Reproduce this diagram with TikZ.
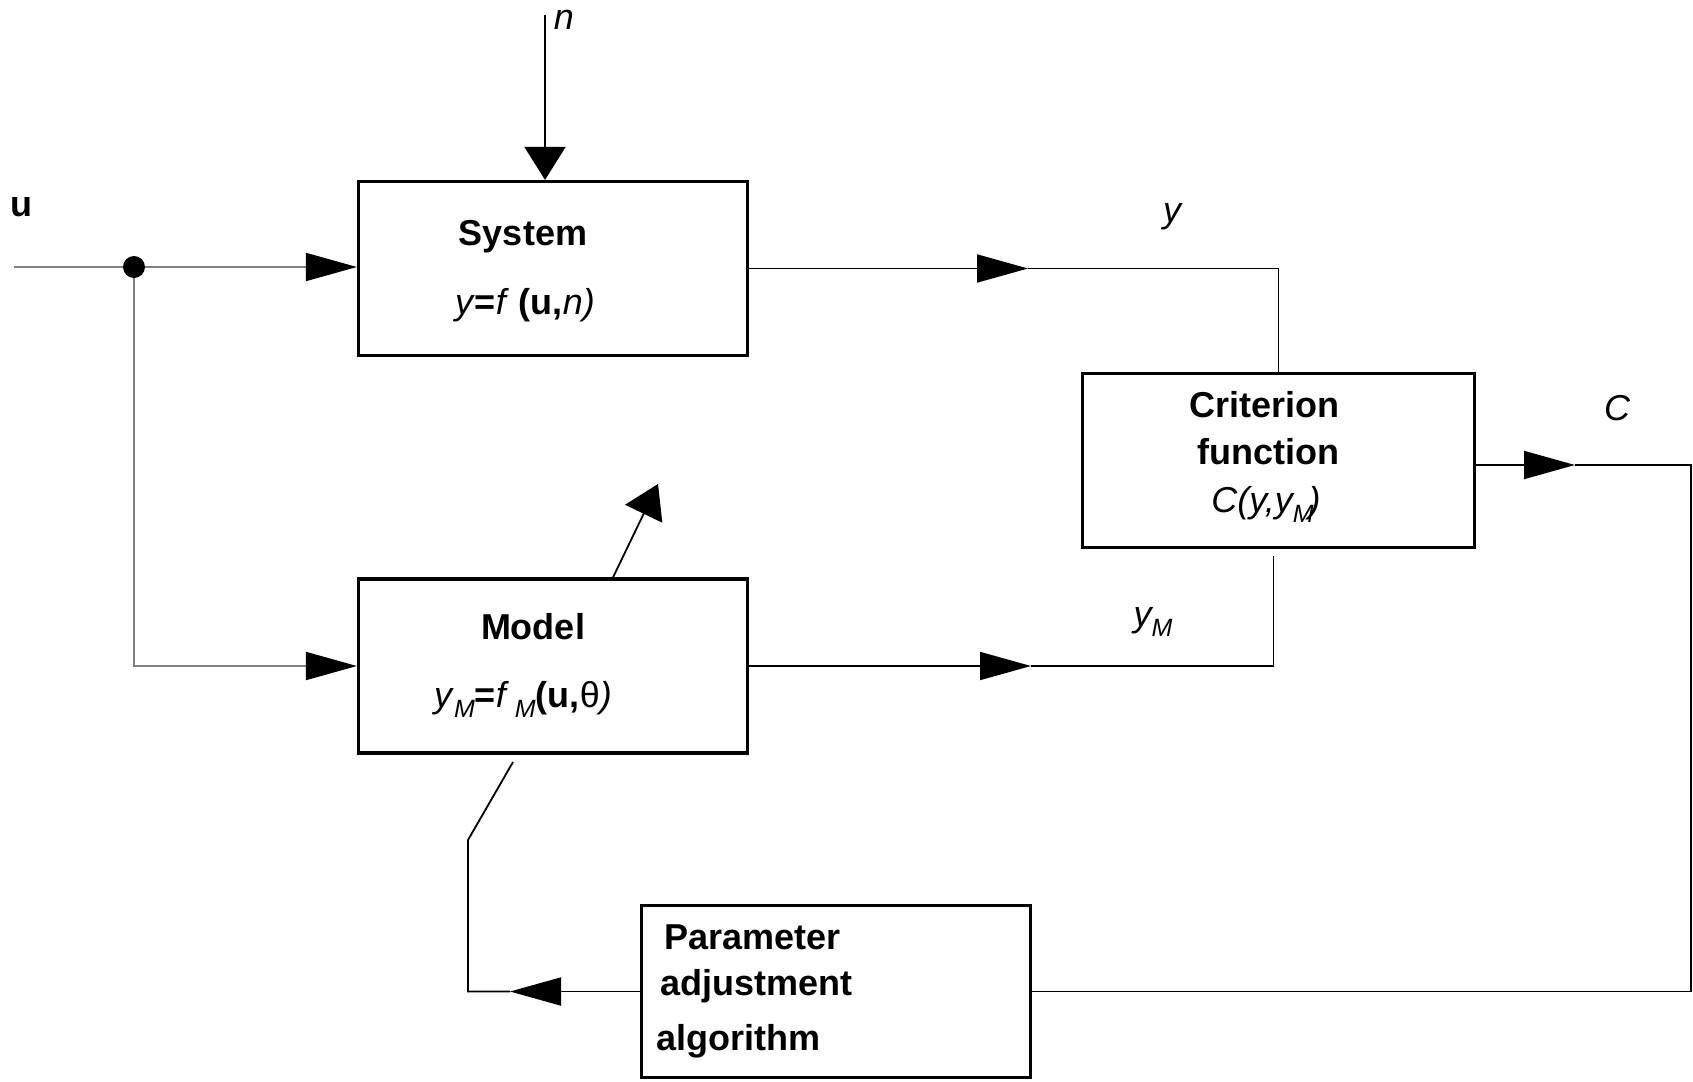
\documentclass[tikz,border=0pt]{standalone}
\usepackage{fontspec}
\setmainfont{Liberation Sans}
\usetikzlibrary{arrows.meta}
% lowered italic subscript used in the labels y_M, f_M
\newcommand\lowsub[1]{\raisebox{-0.28em}{\fontsize{25}{28}\selectfont\itshape\mdseries #1}}

\begin{document}
\begin{tikzpicture}[x=1pt,y=-1pt,
  blockbox/.style={draw, line width=3.2pt, minimum width=389pt, minimum height=174pt, inner sep=0pt},
  txt/.style={font=\fontsize{36}{43}\selectfont, inner sep=0pt},
  wire/.style={line width=1.8pt},
  greywire/.style={line width=1.8pt, draw=black!50},
  hhead/.style={-{Triangle[length=51pt,width=28pt,color=black]}},
  vhead/.style={-{Triangle[length=33pt,width=41pt]}},
]
\useasboundingbox (0,0) rectangle (1693,1081);

% blocks
\node[blockbox] (sys) at (553,268.5) {};
\node[blockbox] (model) at (553,666) {};
\node[blockbox, minimum width=392pt] (crit) at (1278.5,460.5) {};
\node[blockbox, minimum height=172pt] (param) at (836,991.5) {};

% block texts
\node[txt] (systitle) at (523,237) {\bfseries System};
\node[txt] (syseq) at (525,305) {\textit{y}\textbf{=}\textit{f} \textbf{(u,}\textit{n)}};
\node[txt] (modtitle) at (533,627) {\bfseries Model};
\node[txt] (modeq) at (523,699) {\textit{y}\lowsub{M}\textbf{=}\textit{f}\hspace{6pt}\lowsub{M}\textbf{(u,}θ\textit{)}};
\node[txt] (crit1) at (1264,405) {\bfseries Criterion};
\node[txt] (crit2) at (1268,452) {\bfseries function};
\node[txt] (crit3) at (1266,504) {\itshape C(y,y\lowsub{M}\hspace{-5pt})};
\node[txt, anchor=west] (par1) at (664,937) {\bfseries Parameter};
\node[txt, anchor=west] (par2) at (660,986) {\bfseries adjustment};
\node[txt, anchor=west] (par3) at (656,1041) {\bfseries algorithm};

% signal labels
\node[txt] (ulab) at (21,207) {\bfseries u};
\node[txt] (nlab) at (564,20) {\itshape n};
\node[txt] (ylab) at (1172,217) {\itshape y};
\node[txt] (clab) at (1617,408) {\itshape C};
\node[txt] (ymlab) at (1153,622) {\itshape y\lowsub{M}};

% connector points
\coordinate (uin) at (14,267);
\coordinate (split) at (134,267);
\coordinate (noise) at (545,15);
\coordinate (yarrow) at (1028,268.5);
\coordinate (ymarrow) at (1031,666);
\coordinate (carrow) at (1575,465);
\coordinate (fbarrow) at (510,991.5);
\coordinate (thetatip) at (658,484);
\coordinate (fbend) at (513,762);

% input u and its branch to the model
\draw[greywire, hhead] (uin) -- (uin -| sys.west);
\draw[greywire, hhead] (split) |- (model.west);
\fill (split) circle (11pt);

% noise input
\draw[wire, vhead] (noise) -- (noise |- sys.north);

% system output y to the criterion
\draw[wire, hhead] (sys.east) -- (yarrow);
\draw[wire] (yarrow) -| (crit.north);

% model output y_M to the criterion
\draw[wire, hhead] (model.east) -- (ymarrow);
\draw[wire] (ymarrow) -| ([xshift=-5pt,yshift=-7pt]crit.south);

% criterion value C to the adjustment algorithm
\draw[wire, hhead] (crit.east |- carrow) -- (carrow);
\draw[wire] (carrow) -- ++(116,0) |- (param.east);

% parameter update back into the model
\draw[wire, hhead] (param.west) -- (fbarrow);
\draw[wire] (fbarrow) -- ++(-42,0) -- ++(0,-151.5) -- (fbend);

% parameter output of the model
\draw[wire, vhead] ([xshift=60pt]model.north) -- (thetatip);
\end{tikzpicture}
\end{document}
